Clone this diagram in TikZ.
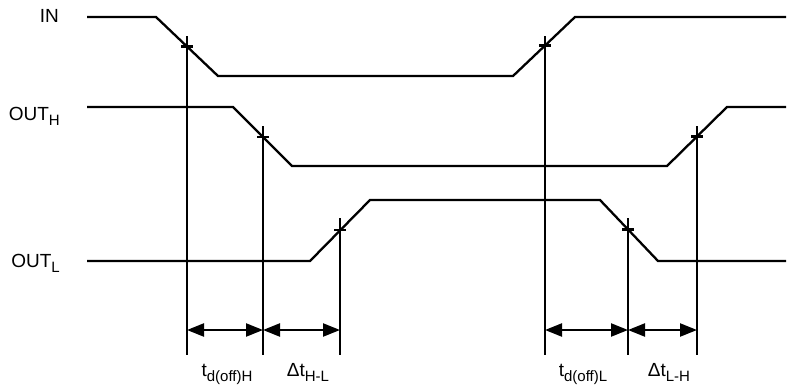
\documentclass[tikz,border=0pt]{standalone}
\usepackage{fontspec}
\setmainfont{Liberation Sans}
\usetikzlibrary{arrows.meta}
\newcommand\lowsub[1]{\raisebox{-5pt}{\fontsize{15}{17}\selectfont #1}}
\begin{document}
\begin{tikzpicture}[x=1pt,y=-1pt,
  wave/.style={line width=2.3pt, line join=miter},
  guide/.style={line width=2.3pt},
  tick/.style={line width=2.3pt},
  dim/.style={line width=2.3pt,{Triangle[length=17pt,width=13pt]}-{Triangle[length=17pt,width=13pt]}},
  lbl/.style={inner sep=0pt, font=\fontsize{19}{21}\selectfont},
]
\useasboundingbox (0,0) rectangle (787,388);

% signal labels
\node[lbl, anchor=base east] (in) at (59,23) {IN};
\node[lbl, anchor=base east] (outh) at (60,120) {OUT\lowsub{H}};
\node[lbl, anchor=base east] (outl) at (60,267) {OUT\lowsub{L}};

% waveforms
\draw[wave] (87,17) -- (156,17) -- (218,76) -- (513,76) -- (575,17) -- (786,17);
\draw[wave] (87,107) -- (233,107) -- (292,166) -- (667,166) -- (727,107) -- (786,107);
\draw[wave] (87,261) -- (310,261) -- (370,200) -- (600,200) -- (658,261) -- (786,261);

% crossing points
\coordinate (c1) at (187,46.5);
\coordinate (c2) at (263,137);
\coordinate (c3) at (340,230);
\coordinate (c4) at (545,45.5);
\coordinate (c5) at (628,229.5);
\coordinate (c6) at (697,136.5);

% guide tops and bottoms
\coordinate (t1) at (187,36);  \coordinate (b1) at (187,355);
\coordinate (t2) at (263,126); \coordinate (b2) at (263,355);
\coordinate (t3) at (340,218); \coordinate (b3) at (340,355);
\coordinate (t4) at (545,36);  \coordinate (b4) at (545,355);
\coordinate (t5) at (628,218); \coordinate (b5) at (628,355);
\coordinate (t6) at (697,126); \coordinate (b6) at (697,355);

\foreach \i in {1,...,6}{
  \draw[guide] (t\i) -- (b\i);
  \draw[tick] ([xshift=-6pt]c\i) -- ([xshift=6pt]c\i);
}

% dimension arrows
\coordinate (a1) at (187,330);
\coordinate (a2) at (263,330);
\coordinate (a3) at (340,330);
\coordinate (a4) at (545,330);
\coordinate (a5) at (628,330);
\coordinate (a6) at (697,330);
\draw[dim] (a1) -- (a2);
\draw[dim] (a2) -- (a3);
\draw[dim] (a4) -- (a5);
\draw[dim] (a5) -- (a6);

% dimension labels
\node[lbl, anchor=base] (l1) at (227,376) {t\lowsub{d(off)H}};
\node[lbl, anchor=base] (l2) at (308,376) {Δt\lowsub{H-L}};
\node[lbl, anchor=base] (l3) at (583,376) {t\lowsub{d(off)L}};
\node[lbl, anchor=base] (l4) at (669,376) {Δt\lowsub{L-H}};
\end{tikzpicture}
\end{document}
